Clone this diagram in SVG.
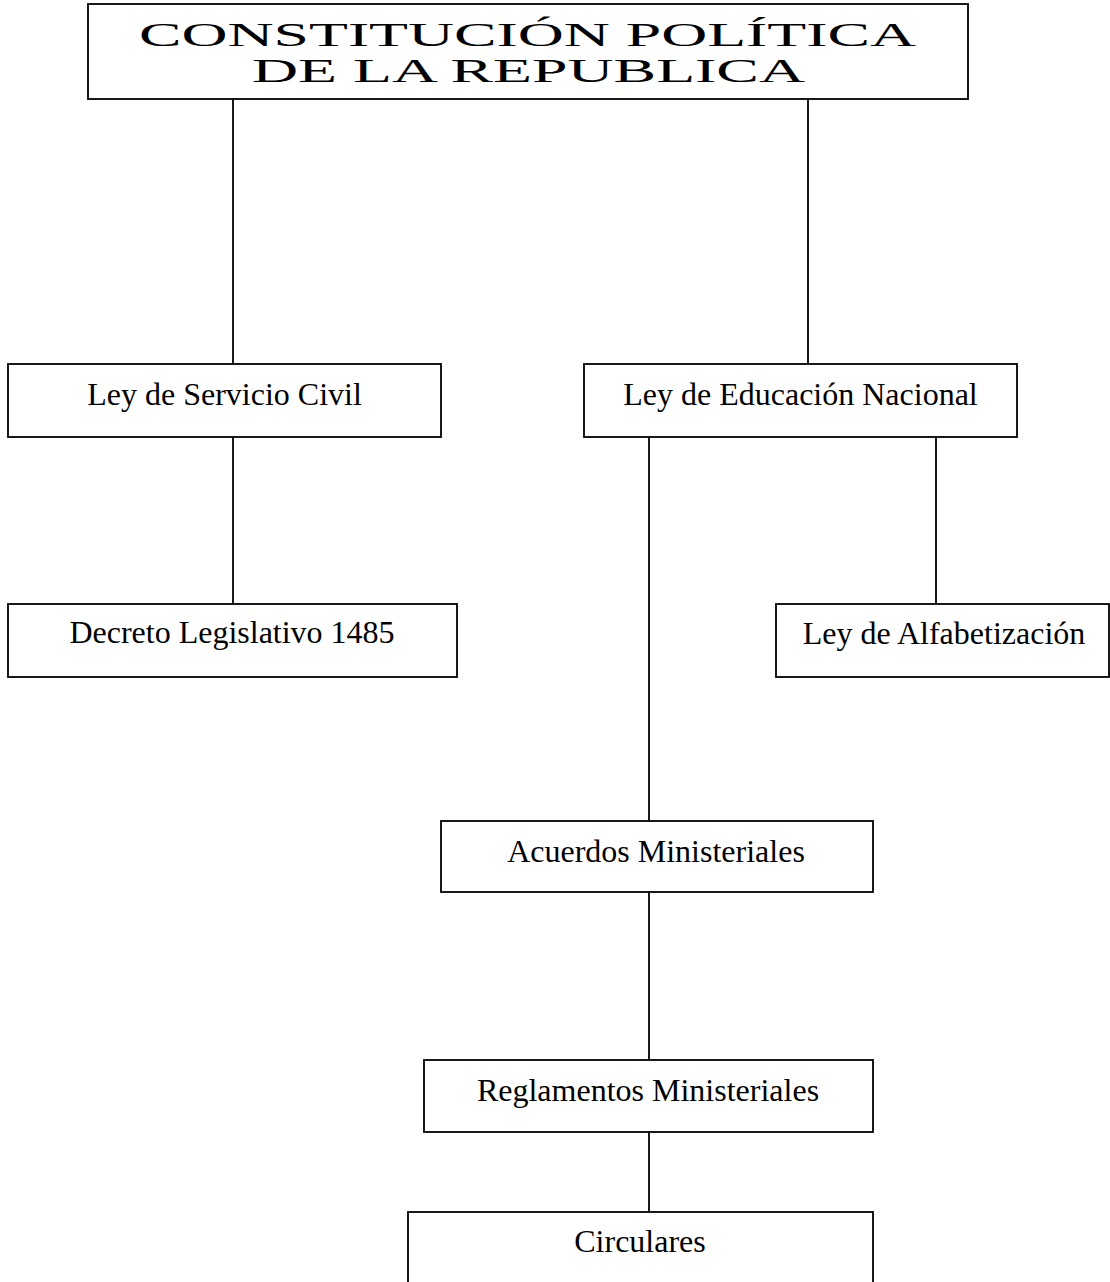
<svg xmlns="http://www.w3.org/2000/svg" width="1110" height="1282" viewBox="0 0 1110 1282">
  <style>
    .box { fill: #ffffff; stroke: #000000; stroke-width: 1.8; }
    .lbl { font-family: "Liberation Serif", "Times New Roman", serif; font-size: 32px; fill: #000000; text-anchor: middle; }
    .ttl { font-family: "Liberation Serif", "Times New Roman", serif; font-size: 33px; fill: #000000; }
    .con { stroke: #000000; stroke-width: 1.8; fill: none; }
  </style>
  <rect x="0" y="0" width="1110" height="1282" fill="#ffffff"/>

  <!-- connectors -->
  <g id="connectors">
    <line class="con" x1="233" y1="99" x2="233" y2="364"/>
    <line class="con" x1="808" y1="99" x2="808" y2="364"/>
    <line class="con" x1="233" y1="437" x2="233" y2="604"/>
    <line class="con" x1="649" y1="437" x2="649" y2="821"/>
    <line class="con" x1="936" y1="437" x2="936" y2="604"/>
    <line class="con" x1="649" y1="892" x2="649" y2="1060"/>
    <line class="con" x1="649" y1="1132" x2="649" y2="1212"/>
  </g>

  <!-- root -->
  <g id="constitucion">
    <rect class="box" x="88" y="4" width="880" height="95"/>
    <text class="ttl" x="139" y="46" textLength="777" lengthAdjust="spacingAndGlyphs">CONSTITUCIÓN POLÍTICA</text>
    <text class="ttl" x="252" y="82" textLength="553" lengthAdjust="spacingAndGlyphs">DE LA REPUBLICA</text>
  </g>

  <g id="servicio-civil">
    <rect class="box" x="8" y="364" width="433" height="73"/>
    <text class="lbl" x="224.5" y="405">Ley de Servicio Civil</text>
  </g>

  <g id="educacion-nacional">
    <rect class="box" x="584" y="364" width="433" height="73"/>
    <text class="lbl" x="800.5" y="405">Ley de Educación Nacional</text>
  </g>

  <g id="decreto-1485">
    <rect class="box" x="8" y="604" width="449" height="73"/>
    <text class="lbl" x="232" y="643">Decreto Legislativo 1485</text>
  </g>

  <g id="alfabetizacion">
    <rect class="box" x="776" y="604" width="333" height="73"/>
    <text class="lbl" x="944" y="644">Ley de Alfabetización</text>
  </g>

  <g id="acuerdos">
    <rect class="box" x="441" y="821" width="432" height="71"/>
    <text class="lbl" x="656" y="862">Acuerdos Ministeriales</text>
  </g>

  <g id="reglamentos">
    <rect class="box" x="424" y="1060" width="449" height="72"/>
    <text class="lbl" x="648" y="1101">Reglamentos Ministeriales</text>
  </g>

  <g id="circulares">
    <rect class="box" x="408" y="1212" width="465" height="90"/>
    <text class="lbl" x="640" y="1252">Circulares</text>
  </g>
</svg>
